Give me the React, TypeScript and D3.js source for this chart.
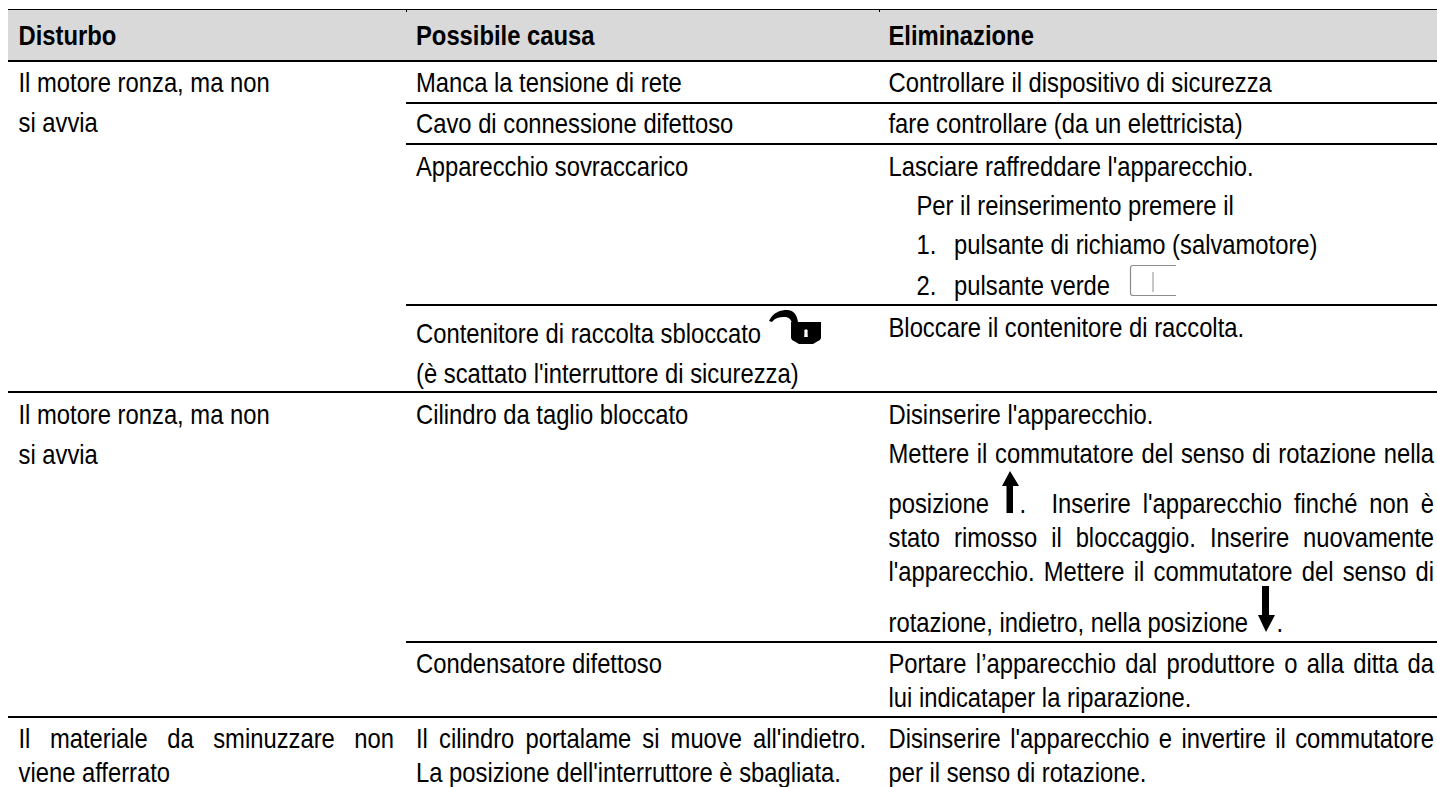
import * as d3 from "d3";
import { useEffect, useRef } from "react";

const headers = ["Disturbo", "Possibile causa", "Eliminazione"];

const disturboLines = [
  "Il motore ronza, ma non",
  "si avvia",
  "Il motore ronza, ma non",
  "si avvia",
  "Il materiale da sminuzzare non",
  "viene afferrato",
];
const causaLines = [
  "Manca la tensione di rete",
  "Cavo di connessione difettoso",
  "Apparecchio sovraccarico",
  "Contenitore di raccolta sbloccato",
  "(è scattato l'interruttore di sicurezza)",
  "Cilindro da taglio bloccato",
  "Condensatore difettoso",
  "Il cilindro portalame si muove all'indietro.",
  "La posizione dell'interruttore è sbagliata.",
];
const eliminazioneLines = [
  "Controllare il dispositivo di sicurezza",
  "fare controllare (da un elettricista)",
  "Lasciare raffreddare l'apparecchio.",
  "Per il reinserimento premere il",
  "1.",
  "pulsante di richiamo (salvamotore)",
  "2.",
  "pulsante verde",
  "Bloccare il contenitore di raccolta.",
  "Disinserire l'apparecchio.",
  "Mettere il commutatore del senso di rotazione nella",
  "posizione",
  ".",
  "Inserire l'apparecchio finché non è",
  "stato rimosso il bloccaggio. Inserire nuovamente",
  "l'apparecchio. Mettere il commutatore del senso di",
  "rotazione, indietro, nella posizione",
  ".",
  "Portare l’apparecchio dal produttore o alla ditta da",
  "lui indicataper la riparazione.",
  "Disinserire l'apparecchio e invertire il commutatore",
  "per il senso di rotazione.",
];

export default function App() {
  const svgRef = useRef<SVGSVGElement>(null);

  useEffect(() => {
    if (!svgRef.current) return;
    const svg = d3.select(svgRef.current);
    svg.selectAll("*").remove();

    const left = 8;
    const right = 1437;
    const col2 = 406;

    // Text starts per column
    const columnX = d3.scaleOrdinal<string, number>().domain(headers).range([18.5, 416, 888.5]);

    // Layout of the text lines: baseline y, x offset, right edge when justified
    const disturboLayout = [
      { y: 92 }, { y: 132 }, { y: 424 }, { y: 464 },
      { y: 748, end: 394 }, { y: 782 },
    ];
    const causaLayout = [
      { y: 92 }, { y: 133 }, { y: 176 }, { y: 343 }, { y: 383 }, { y: 424 }, { y: 673 },
      { y: 748, end: 866 }, { y: 782 },
    ];
    const eliminazioneLayout = [
      { y: 92 }, { y: 133 }, { y: 176 },
      { y: 215, dx: 28 },
      { y: 254, dx: 28 }, { y: 254, dx: 65.5 },
      { y: 295, dx: 28 }, { y: 295, dx: 65.5 },
      { y: 337 }, { y: 424 },
      { y: 463, end: 1434 },
      { y: 513 }, { y: 513, dx: 131 }, { y: 513, dx: 163, end: 1434 },
      { y: 547, end: 1434 }, { y: 581, end: 1434 },
      { y: 632 }, { y: 632, dx: 388 },
      { y: 673, end: 1434 }, { y: 707 },
      { y: 748, end: 1434 }, { y: 782 },
    ];

    svg.append("rect").attr("x", left).attr("y", 9).attr("width", right - left).attr("height", 52).attr("fill", "#d9d9d9");
    svg.append("line").attr("x1", left).attr("x2", right).attr("y1", 9.5).attr("y2", 9.5).attr("stroke", "#000");

    // little ticks under the top rule at the column borders
    [406, 879].forEach((x) => {
      svg.append("line").attr("x1", x + 0.5).attr("x2", x + 0.5).attr("y1", 10).attr("y2", 12).attr("stroke", "#000");
    });

    [61, 392, 717].forEach((y) => {
      svg.append("line").attr("x1", left).attr("x2", right).attr("y1", y).attr("y2", y).attr("stroke", "#000").attr("stroke-width", 2);
    });
    [103, 144, 305, 642].forEach((y) => {
      svg.append("line").attr("x1", col2).attr("x2", right).attr("y1", y).attr("y2", y).attr("stroke", "#000").attr("stroke-width", 2);
    });

    const g = svg
      .append("g")
      .attr("font-family", "'Liberation Sans', Arial, sans-serif")
      .attr("font-size", 23.8)
      .attr("fill", "#000");

    // The source text is narrow and tall, so stretch it a bit vertically
    const addText = (x: number, y: number, text: string, end?: number) => {
      const t = g.append("text").attr("transform", `translate(${x},${y}) scale(1,1.13)`).text(text);
      if (end) {
        const node = t.node() as SVGTextElement;
        const spaces = text.split(" ").length - 1;
        const extra = (end - x - node.getComputedTextLength()) / spaces;
        t.style("word-spacing", `${extra}px`);
      }
      return t;
    };

    headers.forEach((h) => {
      addText(columnX(h), 45, h).attr("font-weight", "bold");
    });

    const columns: [string, string[], any[]][] = [
      [headers[0], disturboLines, disturboLayout],
      [headers[1], causaLines, causaLayout],
      [headers[2], eliminazioneLines, eliminazioneLayout],
    ];
    columns.forEach(([h, lines, layout]) => {
      lines.forEach((text, i) => {
        const p = layout[i];
        addText(columnX(h) + (p.dx || 0), p.y, text, p.end);
      });
    });

    // Open padlock next to "sbloccato"
    const lock = svg.append("g").attr("transform", "translate(769,310)");
    lock
      .append("path")
      .attr("d", "M0 11 C4 2 12 0 18 0 C25 0 28 5 29 12 L29 20 L23 20 L23 13 C22 9 19 7 16 7 C10 7 6 8 3 12 Z")
      .attr("fill", "#000");
    lock
      .append("path")
      .attr("d", "M22 12 H52 V27 Q52 30 49 31 L44 34 H30 L25 31 Q22 30 22 27 Z")
      .attr("fill", "#000");
    lock
      .append("path")
      .attr("d", "M35.5 22 a1.8 1.8 0 1 1 3 0 l0.3 5 h-3.6 Z")
      .attr("fill", "#fff");

    // Green button symbol, right side left open
    const btn = svg.append("g").attr("fill", "none");
    btn
      .append("path")
      .attr("d", "M1176 265.5 H1133 Q1130.5 265.5 1130.5 268 V293 Q1130.5 295.5 1133 295.5 H1176")
      .attr("stroke", "#8c8c8c")
      .attr("stroke-width", 1.2);
    btn.append("line").attr("x1", 1153).attr("x2", 1153).attr("y1", 272).attr("y2", 292).attr("stroke", "#b5b5b5").attr("stroke-width", 1.5);

    // Direction arrows
    svg.append("path").attr("d", "M1010 471 L1019 486 H1013 V513 H1006.5 V486 H1002 Z").attr("fill", "#000");
    svg.append("path").attr("d", "M1262 586 H1269 V615 H1275 L1266 632 L1258 615 H1262 Z").attr("fill", "#000");
  }, []);

  return (
    <svg
      ref={svgRef}
      width={1437}
      height={787}
      style={{ position: "absolute", left: 0, top: 0, display: "block" }}
    />
  );
}
